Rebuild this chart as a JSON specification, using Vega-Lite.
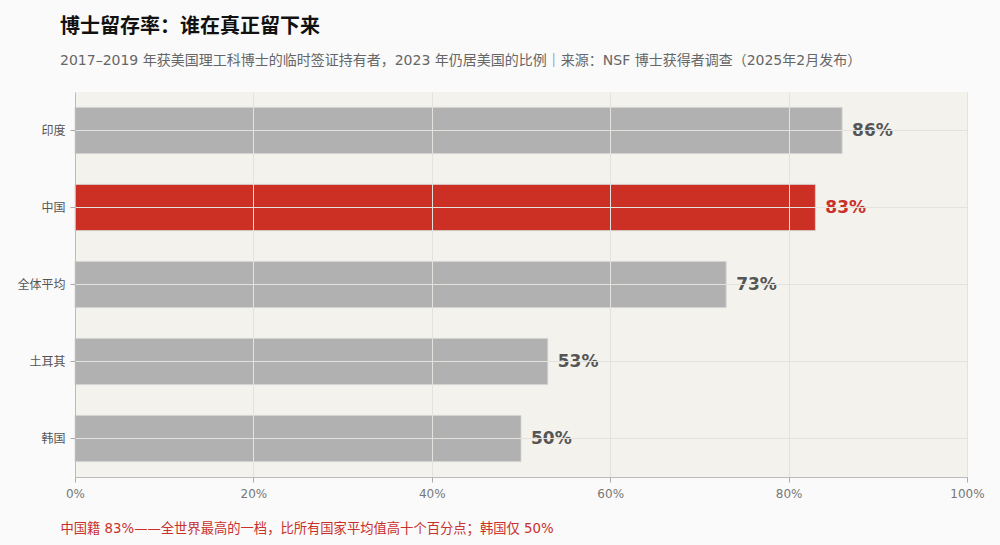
{
  "$schema": "https://vega.github.io/schema/vega-lite/v6.json",
  "width": 1000,
  "height": 545,
  "autosize": {"type": "fit", "contains": "padding"},
  "padding": {"left": 16, "top": 17, "right": 15, "bottom": 10},
  "background": "#fafafa",
  "title": {
    "text": "博士留存率：谁在真正留下来",
    "subtitle": "2017–2019 年获美国理工科博士的临时签证持有者，2023 年仍居美国的比例｜来源：NSF 博士获得者调查（2025年2月发布）",
    "anchor": "start",
    "frame": "group",
    "dx": -15,
    "font": "DejaVu Sans, Noto Sans CJK SC",
    "fontSize": 20,
    "fontWeight": "bold",
    "color": "#111",
    "subtitleFont": "DejaVu Sans, Noto Sans CJK SC",
    "subtitleFontSize": 14,
    "subtitleColor": "#666",
    "subtitlePadding": 17,
    "offset": 24
  },
  "config": {
    "view": {"fill": "#f3f2ed", "stroke": null},
    "font": "DejaVu Sans, Noto Sans CJK SC"
  },
  "data": {
    "values": [
      {"group": "印度", "rate": 0.86, "highlight": false},
      {"group": "中国", "rate": 0.83, "highlight": true},
      {"group": "全体平均", "rate": 0.73, "highlight": false},
      {"group": "土耳其", "rate": 0.53, "highlight": false},
      {"group": "韩国", "rate": 0.50, "highlight": false}
    ]
  },
  "encoding": {
    "y": {
      "field": "group",
      "type": "nominal",
      "sort": null,
      "title": null,
      "scale": {"paddingInner": 0.4, "paddingOuter": 0.2},
      "axis": {
        "labelFontSize": 12,
        "labelColor": "#555",
        "labelPadding": 5,
        "tickColor": "#aaa",
        "domainColor": "#bbb",
        "grid": true,
        "gridColor": "#e4e2dd",
        "zindex": 1
      }
    },
    "x": {
      "field": "rate",
      "type": "quantitative",
      "scale": {"domain": [0, 1]},
      "title": "中国籍 83%——全世界最高的一档，比所有国家平均值高十个百分点；韩国仅 50%",
      "axis": {
        "format": ".0%",
        "values": [0, 0.2, 0.4, 0.6, 0.8, 1],
        "labelOverlap": false,
        "labelBound": false,
        "labelFlush": false,
        "labelFontSize": 12,
        "labelPadding": 6,
        "labelColor": "#777",
        "tickColor": "#aaa",
        "domainColor": "#bbb",
        "gridColor": "#e4e2dd",
        "zindex": 1,
        "titleAnchor": "start",
        "titleAlign": "left",
        "titleX": -15,
        "titleColor": "#c9302c",
        "titleFontSize": 13.3,
        "titleFontWeight": "normal",
        "titlePadding": 22
      }
    }
  },
  "layer": [
    {
      "mark": {"type": "bar", "stroke": "#d4d4d4", "strokeWidth": 0.8},
      "encoding": {
        "color": {
          "field": "highlight",
          "type": "nominal",
          "scale": {"domain": [false, true], "range": ["#b1b1b1", "#cc2f24"]},
          "legend": null
        }
      }
    },
    {
      "mark": {"type": "text", "align": "left", "dx": 10, "fontSize": 17, "fontWeight": "bold"},
      "encoding": {
        "text": {"field": "rate", "type": "quantitative", "format": ".0%"},
        "color": {
          "condition": {"test": "datum.highlight", "value": "#c9302c"},
          "value": "#555"
        }
      }
    }
  ]
}
